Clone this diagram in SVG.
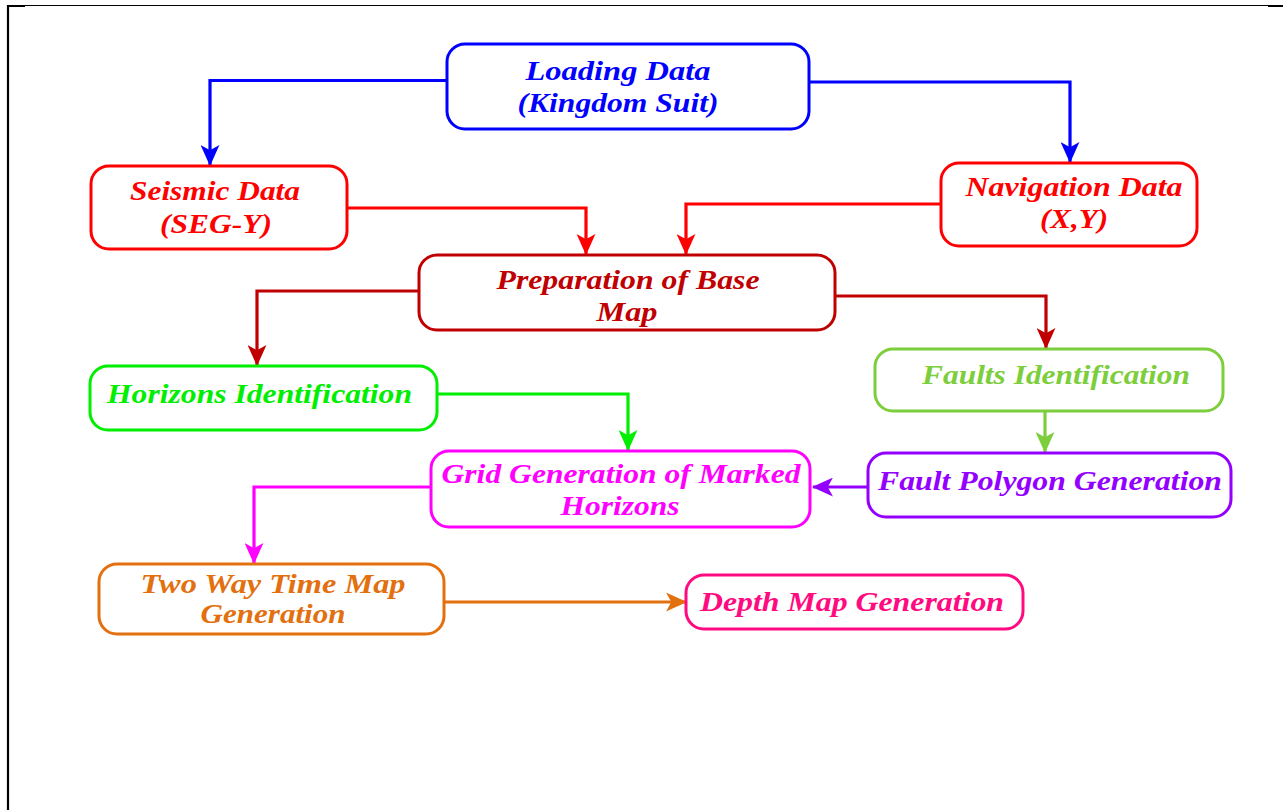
<svg xmlns="http://www.w3.org/2000/svg" width="1283" height="810" viewBox="0 0 1283 810">
<defs>
<style>
.box{fill:#fff;stroke-width:3}
.t{font-family:"Liberation Serif","Times New Roman",serif;font-weight:bold;font-style:italic;font-size:27px;text-anchor:middle}
.c{fill:none;stroke-width:3.2}
</style>
<marker id="aBlue" viewBox="0 0 20 18" refX="19" refY="9" markerWidth="21" markerHeight="19" markerUnits="userSpaceOnUse" orient="auto"><path d="M0,0 L20,9 L0,18 L5,9 Z" fill="#0000ff"/></marker>
<marker id="aRed" viewBox="0 0 20 18" refX="19" refY="9" markerWidth="21" markerHeight="19" markerUnits="userSpaceOnUse" orient="auto"><path d="M0,0 L20,9 L0,18 L5,9 Z" fill="#ff0000"/></marker>
<marker id="aDark" viewBox="0 0 20 18" refX="19" refY="9" markerWidth="21" markerHeight="19" markerUnits="userSpaceOnUse" orient="auto"><path d="M0,0 L20,9 L0,18 L5,9 Z" fill="#c00000"/></marker>
<marker id="aGreen" viewBox="0 0 20 18" refX="19" refY="9" markerWidth="21" markerHeight="19" markerUnits="userSpaceOnUse" orient="auto"><path d="M0,0 L20,9 L0,18 L5,9 Z" fill="#00ee00"/></marker>
<marker id="aLGreen" viewBox="0 0 20 18" refX="19" refY="9" markerWidth="21" markerHeight="19" markerUnits="userSpaceOnUse" orient="auto"><path d="M0,0 L20,9 L0,18 L5,9 Z" fill="#7dce3c"/></marker>
<marker id="aPurple" viewBox="0 0 20 18" refX="19" refY="9" markerWidth="21" markerHeight="19" markerUnits="userSpaceOnUse" orient="auto"><path d="M0,0 L20,9 L0,18 L5,9 Z" fill="#9400ff"/></marker>
<marker id="aMag" viewBox="0 0 20 18" refX="19" refY="9" markerWidth="21" markerHeight="19" markerUnits="userSpaceOnUse" orient="auto"><path d="M0,0 L20,9 L0,18 L5,9 Z" fill="#ff00ff"/></marker>
<marker id="aOrange" viewBox="0 0 20 18" refX="19" refY="9" markerWidth="21" markerHeight="19" markerUnits="userSpaceOnUse" orient="auto"><path d="M0,0 L20,9 L0,18 L5,9 Z" fill="#e3700f"/></marker>
</defs>
<rect width="1283" height="810" fill="#fff"/>
<g id="frame" stroke="#000" fill="none">
<line x1="8" y1="5.5" x2="1283" y2="5.5" stroke-width="1.2"/>
<line x1="8" y1="5" x2="8" y2="810" stroke-width="2.2"/>
<line x1="7" y1="6" x2="25" y2="6" stroke-width="2"/>
<line x1="1268" y1="6" x2="1283" y2="6" stroke-width="2"/>
</g>
<g id="connectors">
<path class="c" stroke="#0000ff" d="M447,80.5 H210 V165" marker-end="url(#aBlue)"/>
<path class="c" stroke="#0000ff" d="M809,82 H1070 V162" marker-end="url(#aBlue)"/>
<path class="c" stroke="#ff0000" d="M347,208 H586 V254" marker-end="url(#aRed)"/>
<path class="c" stroke="#ff0000" d="M941,204 H686 V254" marker-end="url(#aRed)"/>
<path class="c" stroke="#c00000" d="M419,291 H257 V365" marker-end="url(#aDark)"/>
<path class="c" stroke="#c00000" d="M835,296 H1046 V348" marker-end="url(#aDark)"/>
<path class="c" stroke="#00ee00" d="M437,394 H628 V450" marker-end="url(#aGreen)"/>
<path class="c" stroke="#7dce3c" d="M1045,411 V452" marker-end="url(#aLGreen)"/>
<path class="c" stroke="#9400ff" d="M868,487 H813" marker-end="url(#aPurple)"/>
<path class="c" stroke="#ff00ff" d="M431,487 H254 V563" marker-end="url(#aMag)"/>
<path class="c" stroke="#e3700f" d="M444,602 H686" marker-end="url(#aOrange)"/>
</g>
<g id="loading">
<rect class="box" x="447" y="44" width="362" height="85" rx="18" stroke="#0000ff"/>
<text class="t" fill="#0000ff" x="618" y="80" textLength="185" lengthAdjust="spacingAndGlyphs">Loading Data</text>
<text class="t" fill="#0000ff" x="618" y="112" textLength="201" lengthAdjust="spacingAndGlyphs">(Kingdom Suit)</text>
</g>
<g id="seismic">
<rect class="box" x="91" y="166" width="256" height="83" rx="18" stroke="#ff0000"/>
<text class="t" fill="#ff0000" x="215" y="200" textLength="170" lengthAdjust="spacingAndGlyphs">Seismic Data</text>
<text class="t" fill="#ff0000" x="216" y="233" textLength="112" lengthAdjust="spacingAndGlyphs">(SEG-Y)</text>
</g>
<g id="navigation">
<rect class="box" x="941" y="163" width="256" height="83" rx="18" stroke="#ff0000"/>
<text class="t" fill="#ff0000" x="1074" y="196" textLength="217" lengthAdjust="spacingAndGlyphs">Navigation Data</text>
<text class="t" fill="#ff0000" x="1074" y="228" textLength="68" lengthAdjust="spacingAndGlyphs">(X,Y)</text>
</g>
<g id="preparation">
<rect class="box" x="419" y="255" width="416" height="75" rx="18" stroke="#c00000"/>
<text class="t" fill="#c00000" x="628" y="289" textLength="263" lengthAdjust="spacingAndGlyphs">Preparation of Base</text>
<text class="t" fill="#c00000" x="627" y="321" textLength="61" lengthAdjust="spacingAndGlyphs">Map</text>
</g>
<g id="horizons">
<rect class="box" x="90" y="366" width="347" height="64" rx="18" stroke="#00ee00"/>
<text class="t" fill="#00ee00" x="259.5" y="403" textLength="305" lengthAdjust="spacingAndGlyphs">Horizons Identification</text>
</g>
<g id="faults">
<rect class="box" x="875" y="349" width="348" height="62" rx="18" stroke="#7dce3c"/>
<text class="t" fill="#7dce3c" x="1056" y="384" textLength="268" lengthAdjust="spacingAndGlyphs">Faults Identification</text>
</g>
<g id="grid">
<rect class="box" x="431" y="451" width="379" height="76" rx="18" stroke="#ff00ff"/>
<text class="t" fill="#ff00ff" x="621" y="483" textLength="359" lengthAdjust="spacingAndGlyphs">Grid Generation of Marked</text>
<text class="t" fill="#ff00ff" x="620" y="515" textLength="119" lengthAdjust="spacingAndGlyphs">Horizons</text>
</g>
<g id="polygon">
<rect class="box" x="868" y="453" width="363" height="64" rx="18" stroke="#9400ff"/>
<text class="t" fill="#9400ff" x="1050" y="490" textLength="344" lengthAdjust="spacingAndGlyphs">Fault Polygon Generation</text>
</g>
<g id="twoway">
<rect class="box" x="99" y="564" width="345" height="70" rx="18" stroke="#e3700f"/>
<text class="t" fill="#e3700f" x="273" y="593" textLength="265" lengthAdjust="spacingAndGlyphs">Two Way Time Map</text>
<text class="t" fill="#e3700f" x="273" y="623" textLength="145" lengthAdjust="spacingAndGlyphs">Generation</text>
</g>
<g id="depth">
<rect class="box" x="686" y="575" width="337" height="54" rx="18" stroke="#ff0a80"/>
<text class="t" fill="#ff0a80" x="852" y="611" textLength="304" lengthAdjust="spacingAndGlyphs">Depth Map Generation</text>
</g>
</svg>
